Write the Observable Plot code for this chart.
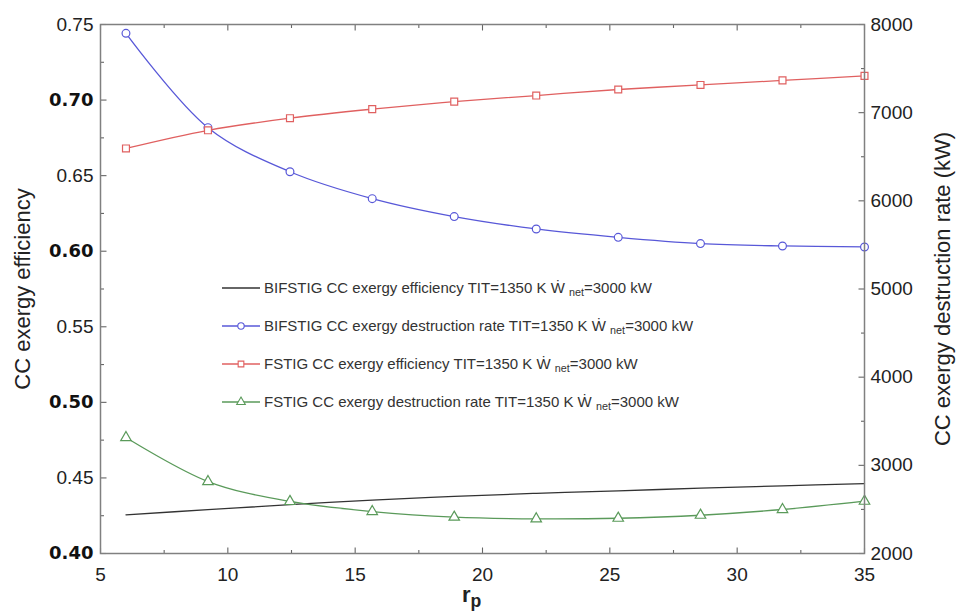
<!DOCTYPE html>
<html><head><meta charset="utf-8">
<script src="https://cdn.jsdelivr.net/npm/d3@7"></script>
<script src="https://cdn.jsdelivr.net/npm/@observablehq/plot@0.6"></script>
<style>
body{margin:0;background:#fff;}
#wrap{position:relative;width:956px;height:615px;font-family:"Liberation Sans",Arial,sans-serif;color:#222;}
#wrap svg{display:block;}
.leg{position:absolute;left:222px;white-space:nowrap;font-size:15px;color:#333;height:20px;line-height:20px;display:flex;align-items:center;}
.leg svg{margin-right:2px;}
.sub{font-size:0.72em;position:relative;top:0.35em;}
#xlab{position:absolute;left:462px;top:584px;font-size:22px;line-height:22px;font-weight:bold;color:#222;}
#xlab .p{font-size:0.8em;position:relative;top:0.3em;}
</style></head>
<body><div id="wrap"></div>
<script>
// ---- data ----
const rp = [6, 9.22, 12.44, 15.67, 18.89, 22.11, 25.33, 28.56, 31.78, 35];
const bifstigEff = [0.4256, 0.4290, 0.4323, 0.4353, 0.4378, 0.4398, 0.4415, 0.4432, 0.4448, 0.4462];
const bifstigDest = [7900, 6830, 6330, 6025, 5821, 5681, 5586, 5515, 5488, 5477];
const fstigEff = [0.668, 0.680, 0.688, 0.694, 0.699, 0.703, 0.707, 0.710, 0.713, 0.716];
const fstigDest = [3315, 2816, 2590, 2476, 2412, 2393, 2400, 2434, 2499, 2593];
const xTicks = [5, 10, 15, 20, 25, 30, 35];
const xMinor = [7.5, 12.5, 17.5, 22.5, 27.5, 32.5];
const leftBold = [0.40, 0.50, 0.60, 0.70];
const leftNormal = [0.45, 0.55, 0.65, 0.75];
const leftMinor = [0.425, 0.475, 0.525, 0.575, 0.625, 0.675, 0.725];
const rightTicks = [2000, 3000, 4000, 5000, 6000, 7000, 8000];
const rightMinor = [2500, 3500, 4500, 5500, 6500, 7500];
const leftDomain = [0.40, 0.75];
const rightDomain = [2000, 8000];
const yLeftTitle = "CC exergy efficiency";
const yRightTitle = "CC exergy destruction rate (kW)";
const legendNames = [
  "BIFSTIG CC exergy efficiency TIT=1350 K",
  "BIFSTIG CC exergy destruction rate TIT=1350 K",
  "FSTIG CC exergy efficiency TIT=1350 K",
  "FSTIG CC exergy destruction rate TIT=1350 K"
];
const colors = ["#333333", "#5858d8", "#e06060", "#5a9a5a"];
const symbols = [null, "circle", "square", "triangle"];

// ---- layout ----
const W = 956, H = 615, mL = 100, mR = 92, mT = 24, mB = 62;

// ---- mapping right axis onto left scale ----
const toL = v => leftDomain[0] + (v - rightDomain[0]) * (leftDomain[1] - leftDomain[0]) / (rightDomain[1] - rightDomain[0]);
const fromL = y => rightDomain[0] + (y - leftDomain[0]) * (rightDomain[1] - rightDomain[0]) / (leftDomain[1] - leftDomain[0]);

const rows = (vals, conv) => rp.map((r, i) => ({r, y: conv(vals[i])}));
const series = [rows(bifstigEff, v => v), rows(bifstigDest, toL), rows(fstigEff, v => v), rows(fstigDest, toL)];

const lineMarks = [];
series.forEach((s, i) => {
  lineMarks.push(Plot.line(s, {x: "r", y: "y", curve: "catmull-rom", stroke: colors[i], strokeWidth: 1.3}));
});
series.forEach((s, i) => {
  if (symbols[i]) lineMarks.push(Plot.dot(s, {x: "r", y: "y", symbol: symbols[i], r: 3.9, stroke: colors[i], fill: "white", strokeWidth: 1.2}));
});

// inward tick marks drawn as short-line custom symbols anchored on the frame
const tickStroke = "#666666";
const lineSym = (dx, dy) => ({draw(ctx) { ctx.moveTo(0, 0); ctx.lineTo(dx, dy); }});
const tx = (data, side, len) => Plot.dot(data, {x: d => d, frameAnchor: side, r: 1, stroke: tickStroke, strokeWidth: 1.1, fill: "none",
  symbol: lineSym(0, side === "bottom" ? -len : len)});
const ty = (data, side, len) => Plot.dot(data, {y: d => d, frameAnchor: side, r: 1, stroke: tickStroke, strokeWidth: 1.1, fill: "none",
  symbol: lineSym(side === "left" ? len : -len, 0)});

const chart = Plot.plot({
  width: W, height: H,
  marginLeft: mL, marginRight: mR, marginTop: mT, marginBottom: mB,
  style: {fontFamily: '"Liberation Sans", Arial, sans-serif', background: "white", color: "#222"},
  x: {domain: [5, 35], label: null},
  y: {domain: leftDomain, label: null},
  marks: [
    tx(xTicks, "bottom", 6), tx(xMinor, "bottom", 3.5),
    tx(xTicks, "top", 6), tx(xMinor, "top", 3.5),
    ty([...leftBold, ...leftNormal], "left", 6), ty(leftMinor, "left", 3.5),
    ty(rightTicks.map(toL), "right", 6), ty(rightMinor.map(toL), "right", 3.5),
    ...lineMarks,
    // tick labels
    Plot.axisX({anchor: "bottom", ticks: xTicks, tickSize: 0, tickPadding: 14, fontSize: 19, tickFormat: d => String(d), label: null}),
    Plot.axisY({anchor: "left", ticks: leftNormal, tickSize: 0, tickPadding: 7, fontSize: 19, tickFormat: d3.format(".2f"), label: null}),
    Plot.axisY({anchor: "left", ticks: leftBold, tickSize: 0, tickPadding: 7, fontSize: 18, fontWeight: "bold", fontFamily: '"DejaVu Sans", sans-serif', fill: "#111", tickFormat: d3.format(".2f"), label: null}),
    Plot.axisY({anchor: "right", ticks: rightTicks.map(toL), tickSize: 0, tickPadding: 6, fontSize: 19, tickFormat: d => String(Math.round(fromL(d))), label: null}),
    Plot.frame({stroke: "#808080", strokeWidth: 1.5}),
    // axis titles
    Plot.text([yLeftTitle], {frameAnchor: "left", textAnchor: "middle", text: d => d, rotate: -90, dx: -78, fontSize: 22, fill: "#222"}),
    Plot.text([yRightTitle], {frameAnchor: "right", textAnchor: "middle", text: d => d, rotate: -90, dx: 78, fontSize: 22, fill: "#222"})
  ]
});

const wrap = document.getElementById("wrap");
wrap.appendChild(chart);

// legend overlay
const legTops = [278, 316, 354, 392];
legendNames.forEach((name, i) => {
  const div = document.createElement("div");
  div.className = "leg";
  div.style.top = legTops[i] + "px";
  const sw = d3.create("svg").attr("width", 40).attr("height", 14);
  sw.append("line").attr("x1", 0).attr("x2", 38).attr("y1", 7).attr("y2", 7).attr("stroke", colors[i]).attr("stroke-width", 1.3);
  if (symbols[i]) {
    const sym = {circle: d3.symbolCircle, square: d3.symbolSquare, triangle: d3.symbolTriangle}[symbols[i]];
    sw.append("path").attr("d", d3.symbol(sym, 3.2 * 3.2 * Math.PI)()).attr("transform", "translate(19,7)")
      .attr("fill", "white").attr("stroke", colors[i]).attr("stroke-width", 1.1);
  }
  div.appendChild(sw.node());
  const t = document.createElement("span");
  t.innerHTML = name + " \u1E86 <span class='sub'>net</span>=3000 kW";
  div.appendChild(t);
  wrap.appendChild(div);
});

const xl = document.createElement("div");
xl.id = "xlab";
xl.innerHTML = "r<span class='p'>p</span>";
wrap.appendChild(xl);
</script>
</body></html>
